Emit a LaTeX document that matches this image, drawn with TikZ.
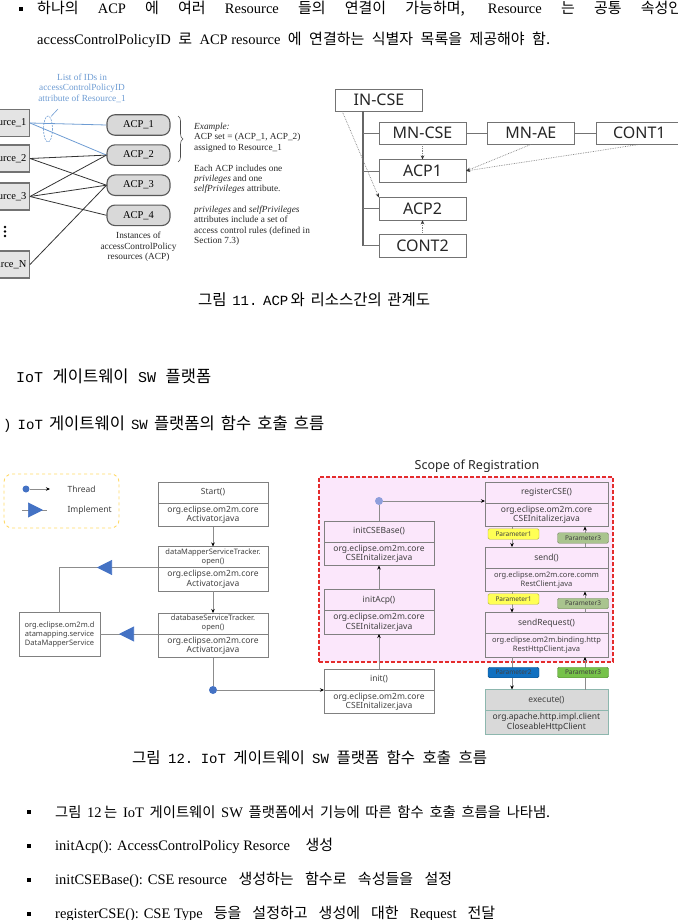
\documentclass[tikz,border=0pt]{standalone}
\usepackage{fontspec}
\setmainfont{Liberation Serif}
\setmonofont{Liberation Mono}
\newfontfamily\kr{Noto Sans CJK KR}
\newfontfamily\ui{Noto Sans}
\usetikzlibrary{positioning, fit, backgrounds, arrows.meta, calc, decorations.pathreplacing, decorations.markings}

\definecolor{acpfill}{HTML}{D9D9D9}
\definecolor{resfill}{HTML}{E4E4E4}
\definecolor{idblue}{HTML}{6E9CD3}
\definecolor{scopered}{HTML}{E42C2C}
\definecolor{scopefill}{HTML}{FBE7FB}
\definecolor{legendgold}{HTML}{FFD966}
\definecolor{threadblue}{HTML}{4472C4}
\definecolor{threadlav}{HTML}{8E9EDB}
\definecolor{pyellow}{HTML}{FFFF55}
\definecolor{psage}{HTML}{A9C48E}
\definecolor{pblue}{HTML}{1070C0}
\definecolor{pgreen}{HTML}{76C24A}
\definecolor{execfill}{HTML}{D9D9D9}
\definecolor{execline}{HTML}{8DB7AE}
\definecolor{boxtext}{HTML}{404040}

\newcommand{\fsz}[2]{\fontsize{#1}{#2}\selectfont}
\newcommand{\ko}[1]{{\kr\fsz{15}{17}#1}}
\newcommand{\kb}[1]{{\kr\fsz{14.3}{17}#1}}
\newcommand{\kc}[1]{{\kr\fsz{15.5}{17}#1}}
\newcommand{\kh}[1]{{\kr\fsz{16.5}{17}#1}}
\newcommand{\wgap}{\hskip 4pt plus 1fil\relax}

\begin{document}
\begin{tikzpicture}[x=1pt, y=-1pt,
    res/.style={draw=black!55, line width=1.1pt, fill=resfill, minimum height=27pt, inner xsep=3pt, font=\fsz{10.5}{12}},
    acp/.style={draw=black!65, line width=1.1pt, fill=acpfill, rounded corners=8pt, minimum width=63pt, minimum height=20.5pt, font=\fsz{10.5}{12}},
    note/.style={align=left, inner sep=0pt, text=black!85, font=\fsz{9.3}{10.3}},
    idnote/.style={align=center, inner sep=0pt, text=idblue, font=\fsz{9.3}{10.5}},
    idlink/.style={idblue, line width=0.8pt},
    link/.style={black!80, line width=0.8pt},
    tree/.style={draw=black!55, minimum width=87pt, minimum height=22.5pt, inner sep=2pt, font=\ui\fsz{16}{18}, text=black!85},
    branch/.style={black!55, line width=0.7pt},
    trunkline/.style={black!60, line width=1.2pt},
    dotarrow/.style={black!50, densely dotted, line width=0.7pt, -{Stealth[length=4pt, width=3.5pt, color=black!80]}},
    fn/.style={draw=black!50, outer sep=0pt, minimum width=110pt, minimum height=21pt, inner sep=1pt, align=center, text=boxtext, font=\ui\fsz{8.5}{9.8}},
    pkg/.style={fn, minimum height=23.5pt},
    fnw/.style={fn, minimum width=123pt},
    pkgw/.style={pkg, minimum width=123pt},
    small/.style={font=\ui\fsz{7.5}{9}},
    flow/.style={black!45, line width=0.6pt, -{Stealth[length=4pt, width=3.5pt, color=black]}},
    plain/.style={black!45, line width=0.6pt},
    dot/.style={circle, fill=threadblue, minimum size=8pt, inner sep=0pt},
    impl/.style={plain, postaction={decorate, decoration={markings, mark=at position #1 with {\arrow{Triangle[length=15pt, width=15pt, color=threadblue]}}}}},
    param/.style={draw=#1!70!black, fill=#1, rounded corners=1.5pt, minimum width=51pt, minimum height=10.5pt, inner sep=0pt, font=\ui\fsz{6.5}{7}, text=boxtext},
    regbox/.style={draw=scopered, fill=scopefill, dash pattern=on 4pt off 2pt, line width=1.8pt, inner sep=5pt},
    legtxt/.style={anchor=west, font=\ui\fsz{8.5}{10}, text=boxtext},
    sq/.style={fill=black, minimum size=4.5pt, inner sep=0pt},
    body/.style={anchor=west, inner sep=0pt, font=\fsz{14.5}{17}},
    head/.style={anchor=west, inner sep=0pt, font=\ttfamily\fsz{14}{17}}
]
\useasboundingbox (0,0) rectangle (677,920);

% text above figure 11
\node[sq] (b0) at (21,9) {};
\node[body] (l1) at (37,9) {\makebox[645pt][s]{\ko{하나의} ACP \ko{에} \ko{여러} Resource \ko{들의} \ko{연결이} \ko{가능하며,} Resource \ko{는} \ko{공통} \ko{속성인}}};
\node[body] (l2) at (37,40) {\makebox[513pt][s]{accessControlPolicyID \ko{로} \mbox{ACP resource} \ko{에} \ko{연결하는} \ko{식별자} \ko{목록을} \ko{제공해야} \ko{함.}}};

% figure 11, left part
\node[res, anchor=east] (r1) at (30,123) {Resource\_1};
\node[res, anchor=east] (r2) at (30,158.5) {Resource\_2};
\node[res, anchor=east] (r3) at (30,196.5) {Resource\_3};
\node[res, anchor=east] (rn) at (30,264.5) {Resource\_N};
\foreach \y in {227,231.5,236}
    \fill (5,\y) circle (1.4);

\node[acp] (acp1) at (138.5,125) {ACP\_1};
\node[acp, below=8.5pt of acp1] (acp2) {ACP\_2};
\node[acp, below=8.5pt of acp2] (acp3) {ACP\_3};
\node[acp, below=8.5pt of acp3] (acp4) {ACP\_4};
\node[note, align=center, below=6pt of acp4] (acpinst) {Instances of\\accessControlPolicy\\resources (ACP)};

\draw[idlink] (r1.east) -- (acp1.west);
\draw[idlink] (r1.east) -- (acp2.west);
\foreach \a/\b in {r2/acp2, r2/acp3, r3/acp2, r3/acp3, r3/acp4, rn/acp3}
    \draw[link] (\a.east) -- (\b.west);

\draw[idlink, line width=0.6pt, dash pattern=on 2pt off 1pt] (48,129) ellipse (4.5 and 13);
\draw[idlink, line width=0.6pt] (51,116.5) -- (58,109);
\node[idnote] (idlist) at (82,88) {List of IDs in\\accessControlPolicyID\\attribute of Resource\_1};

\draw[black!70, line width=0.6pt, decorate, decoration={brace, amplitude=5pt}] (178,116) -- (178,162);
\node[note, anchor=north west] (acpex) at (194,123) {\textit{Example:}\\ACP set = (ACP\_1, ACP\_2)\\assigned to Resource\_1\\[10.5pt]Each ACP includes one\\\textit{privileges} and one\\\textit{selfPrivileges} attribute.\\[10.5pt]\textit{privileges} and \textit{selfPrivileges}\\attributes include a set of\\access control rules (defined in\\Section 7.3)};

% figure 11, right part
\node[tree] (incse) at (379,100) {IN-CSE};
\node[tree] (mncse) at (422.5,133) {MN-CSE};
\node[tree, right=21pt of mncse] (mnae) {MN-AE};
\node[tree, right=21pt of mnae] (cont1) {CONT1};
\node[tree, below=15pt of mncse] (acp1r) {ACP1};
\node[tree, below=15pt of acp1r] (acp2r) {ACP2};
\node[tree, below=14pt of acp2r] (cont2) {CONT2};

\coordinate (trunk) at (363,111);
\draw[trunkline] (trunk) -- (trunk |- cont2.west);
\foreach \n in {mncse, acp1r, acp2r, cont2}
    \draw[branch] (trunk |- \n.west) -- (\n.west);
\draw[branch] (mncse) -- (mnae);
\draw[branch] (mnae) -- (cont1);

\draw[dotarrow] (mncse.south) -- (acp1r.north);
\draw[dotarrow] (mnae.south) -- (acp1r.east);
\draw[dotarrow] (cont1.south) -- (acp1r.east);
\draw[dotarrow] ($(incse.south west)+(7,0)$) -- (acp2r.north west);
\draw[dotarrow] (cont2.north) -- (acp2r.south);

\node[head] (cap11) at (198,300) {\makebox[232pt][s]{\kc{그림}\wgap 11.\wgap ACP\,\kc{와}\wgap\kc{리소스간의}\wgap\kc{관계도}}};

% headings
\node[head, font=\ttfamily\fsz{15}{17}] (sec) at (16,376) {\makebox[195pt][s]{IoT\wgap\kh{게이트웨이}\wgap SW\wgap\kh{플랫폼}}};
\node[head] (subsec) at (3,424) {\makebox[321pt][s]{)\wgap IoT\wgap\kh{게이트웨이}\wgap SW\wgap\kh{플랫폼의}\wgap\kh{함수}\wgap\kh{호출}\wgap\kh{흐름}}};

% figure 12, legend
\node[draw=legendgold, dashed, line width=0.9pt, rounded corners=8pt, minimum width=115pt, minimum height=54pt] (legend) at (61.5,501) {};
\node[dot, minimum size=7pt] (ldot) at (26,489) {};
\coordinate (lthr) at (50,489);
\draw[flow] (ldot) -- (lthr);
\node[legtxt] (lthread) at (64,489) {Thread};
\coordinate (limpa) at (22,510);
\coordinate (limpb) at (47,510);
\draw[impl=21pt] (limpa) -- (limpb);
\node[legtxt] (limpl) at (64,510) {Implement};

% figure 12, activator column
\node[fn] (start) at (213,492.5) {Start()};
\node[pkg, below=0pt of start] (startpkg) {org.eclipse.om2m.core\\Activator.java};
\node[fn, small, below=20pt of startpkg] (dmap) {dataMapperServiceTracker.\\open()};
\node[pkg, below=0pt of dmap] (dmappkg) {org.eclipse.om2m.core\\Activator.java};
\node[fn, small, below=22pt of dmappkg] (dbase) {databaseServiceTracker.\\open()};
\node[pkg, below=0pt of dbase] (dbasepkg) {org.eclipse.om2m.core\\Activator.java};
\node[fn, small, minimum width=81pt, minimum height=44pt] (dms) at (59.5,634.5) {org.eclipse.om2m.d\\atamapping.service\\DataMapperService};

\draw[flow] (startpkg) -- (dmap);
\draw[flow] (dmappkg) -- (dbase);
\draw[impl=61pt] (dmap.south west) -- (dmap.south west -| dms.north) -- (dms.north);
\draw[impl=39pt] (dbase.south west) -- (dbase.south west -| dms.east);

% figure 12, CSE initializer column
\node[fn] (initbase) at (379,531.5) {initCSEBase()};
\node[pkg, below=0pt of initbase] (initbasepkg) {org.eclipse.om2m.core\\CSEInitalizer.java};
\node[fn, below=24pt of initbasepkg] (initacp) {initAcp()};
\node[pkg, below=0pt of initacp] (initacppkg) {org.eclipse.om2m.core\\CSEInitalizer.java};
\node[fn, below=35pt of initacppkg] (init) {init()};
\node[pkg, below=0pt of init] (initpkg) {org.eclipse.om2m.core\\CSEInitalizer.java};

% figure 12, registration column
\node[fnw] (reg) at (546.5,492.5) {registerCSE()};
\node[pkgw, below=0pt of reg] (regpkg) {org.eclipse.om2m.core\\CSEInitalizer.java};
\node[fnw, below=20.5pt of regpkg] (send) {send()};
\node[pkgw, small, below=0pt of send] (sendpkg) {org.eclipse.om2m.core.comm\\RestClient.java};
\node[fnw, below=21pt of sendpkg] (sendreq) {sendRequest()};
\node[pkgw, small, below=0pt of sendreq] (sendreqpkg) {org.eclipse.om2m.binding.http\\RestHttpClient.java};
\node[fnw, fill=execfill, draw=execline, below=32.5pt of sendreqpkg] (exec) {execute()};
\node[pkgw, fill=execfill, draw=execline, text=black!80, below=0pt of exec] (execpkg) {org.apache.http.impl.client\\CloseableHttpClient};

\begin{scope}[on background layer]
    \node[regbox, fit=(initbase) (reg) (sendreqpkg), label={[xshift=11pt, font=\ui\fsz{12.5}{14}, text=black!85]above:Scope of Registration}] (scope) {};
\end{scope}

% threads
\node[dot] (th1) at (dbasepkg.south |- init.south west) {};
\draw[plain] (dbasepkg) -- (th1);
\draw[flow] (th1) -- (init.south west);
\draw[flow] (init) -- (initacppkg);
\draw[flow] (initacp) -- (initbasepkg);
\node[dot, fill=threadlav] (th2) at (379,501) {};
\draw[plain] (initbase) -- (th2);
\draw[flow] (th2) -- (th2 -| reg.west);

% parameters
\coordinate (dn) at (512,0);
\coordinate (up) at (585,0);
\foreach \a/\b in {regpkg/send, sendpkg/sendreq, sendreqpkg/exec} {
    \draw[flow] (\a.south -| dn) -- (\b.north -| dn);
    \draw[flow] (\b.north -| up) -- (\a.south -| up);
}
\node[param=pyellow] (p1a) at (513.5,534) {Parameter1};
\node[param=psage] (p3a) at (583,538) {Parameter3};
\node[param=pyellow] (p1b) at (513.5,599) {Parameter1};
\node[param=psage] (p3b) at (583,603.5) {Parameter3};
\node[param=pblue] (p2c) at (513.5,672.5) {Parameter2};
\node[param=pgreen] (p3c) at (583,672.5) {Parameter3};

\node[head] (cap12) at (132,758) {\makebox[355pt][s]{\kc{그림}\wgap 12.\wgap IoT\wgap\kc{게이트웨이}\wgap SW\wgap\kc{플랫폼}\wgap\kc{함수}\wgap\kc{호출}\wgap\kc{흐름}}};

% bullets below figure 12
\foreach \y in {812,846,880,914}
    \node[sq] (sq\y) at (29,\y) {};
\node[body] (t1) at (55,812) {\makebox[495pt][s]{\kb{그림} 12\,\kb{는} IoT \kb{게이트웨이} SW \kb{플랫폼에서} \kb{기능에} \kb{따른} \kb{함수} \kb{호출} \kb{흐름을} \kb{나타냄.}}};
\node[body] (t2) at (55,846) {\makebox[278pt][s]{\mbox{initAcp(): AccessControlPolicy Resorce} \ko{생성}}};
\node[body] (t3) at (55,880) {\makebox[397pt][s]{\mbox{initCSEBase(): CSE resource} \ko{생성하는} \ko{함수로} \ko{속성들을} \ko{설정}}};
\node[body] (t4) at (55,914) {\makebox[440pt][s]{\mbox{registerCSE(): CSE Type} \ko{등을} \ko{설정하고} \ko{생성에} \ko{대한} Request \ko{전달}}};
\end{tikzpicture}
\end{document}
